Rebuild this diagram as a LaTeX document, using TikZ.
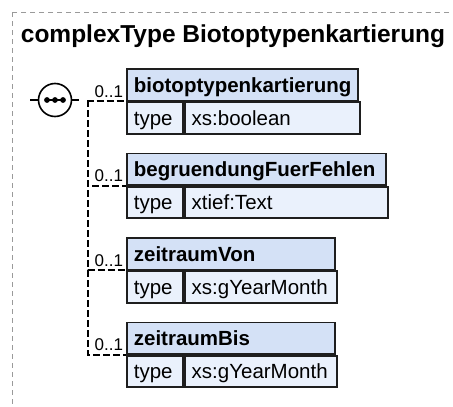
\documentclass[tikz,border=0pt]{standalone}
\usepackage{fontspec}
\setmainfont{Liberation Sans}
\usetikzlibrary{positioning}
\definecolor{chead}{HTML}{D4E1F6}
\definecolor{crow}{HTML}{EAF1FC}
\definecolor{cline}{HTML}{1E1E1E}
\definecolor{cframe}{HTML}{9A9A9A}
\tikzset{
  every picture/.style={line width=1.8pt},
  title/.style={font=\fontsize{24.5}{28}\selectfont\bfseries, inner sep=0pt},
  cell/.style={draw=cline, fill=#1, anchor=north west, inner xsep=7pt, inner ysep=0pt,
    minimum height=31.5pt, text height=15pt, text depth=0pt, align=left,
    font=\fontsize{20.5}{24}\selectfont},
  hdr/.style={cell=chead, font=\fontsize{20.5}{24}\selectfont\bfseries, text width=#1pt-14pt},
  key/.style={cell=crow, text width=42pt},
  val/.style={cell=crow, text width=#1pt-14pt},
  wire/.style={draw=black, dash pattern=on 7pt off 3pt},
  occ/.style={font=\fontsize{17}{19}\selectfont, anchor=base east, inner sep=0pt},
  frame/.style={draw=cframe, line width=1pt, dash pattern=on 5pt off 4pt},
}

\begin{document}
\begin{tikzpicture}[x=1pt, y=-1pt]
  \useasboundingbox (0,0) rectangle (453,407);
  \draw[frame] (12,12) rectangle (470,425);
  \node[title, anchor=base west] (ttl) at (20,42) {complexType Biotoptypenkartierung};
  % sequence compositor
  \node[circle, draw, fill=white, line width=1.6pt, minimum size=33pt, inner sep=0pt] (seq) at (55,100) {};
  \draw[line width=1.8pt] ([xshift=-9pt]seq.center) -- ([xshift=9pt]seq.center);
  \foreach \dx in {-8,0,8} \fill ([xshift=\dx pt]seq.center) circle (2.9pt);
  \coordinate (in) at (30,100);
  \coordinate (out) at (79,100);
  \coordinate (fork) at (88,100);
  \draw (in) -- (seq.west);
  \draw (seq.east) -- (out);
  % elements
  \node[hdr=231] (h1) at (126,68) {biotoptypenkartierung};
  \node[key] (k1) at (h1.south west) {type};
  \node[val=175] (v1) at (k1.north east) {xs:boolean};
  \node[hdr=259] (h2) at (126,152.5) {begruendungFuerFehlen};
  \node[key] (k2) at (h2.south west) {type};
  \node[val=203] (v2) at (k2.north east) {xtief:Text};
  \node[hdr=208] (h3) at (126,237) {zeitraumVon};
  \node[key] (k3) at (h3.south west) {type};
  \node[val=152] (v3) at (k3.north east) {xs:gYearMonth};
  \node[hdr=208] (h4) at (126,321.5) {zeitraumBis};
  \node[key] (k4) at (h4.south west) {type};
  \node[val=152] (v4) at (k4.north east) {xs:gYearMonth};
  \foreach \n in {1,...,4} \draw[wire] (fork) |- (h\n.south west);
  \foreach \n in {1,...,4} \node[occ] (o\n) at ([xshift=-2pt,yshift=4pt]h\n.south west) {0..1};
\end{tikzpicture}
\end{document}
